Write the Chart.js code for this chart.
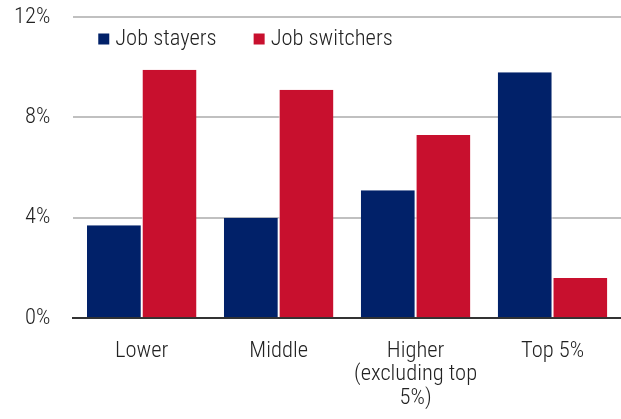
<!DOCTYPE html>
<html>
<head>
    <meta charset="UTF-8">
    <title>Job stayers vs switchers</title>
    <script src="https://cdn.jsdelivr.net/npm/chart.js@4.4.1/dist/chart.umd.min.js"></script>
    <style>
        body { margin: 0; background: #fff; }
        #wrap { width: 621px; height: 419px; }
    </style>
</head>
<body>
    <div id="wrap"><canvas id="myChart" width="621" height="419"></canvas></div>

    <script>
        const categories = ['Lower', 'Middle', ['Higher', '(excluding top', '5%)'], 'Top 5%'];
        const jobStayers = [3.7, 4.0, 5.1, 9.8];
        const jobSwitchers = [9.9, 9.1, 7.3, 1.6];
        const yTicks = [0, 4, 8, 12];

        const FONT = '"Roboto Condensed", "Open Sans", sans-serif';
        const WEIGHT = '300';
        const SIZE = 22.5;

        // legend drawn inside the plot, top-left
        const insideLegend = {
            id: 'insideLegend',
            afterDraw(chart) {
                const ctx = chart.ctx;
                const area = chart.chartArea;
                let x = area.left + 25;
                const y = area.top + 22;
                ctx.save();
                ctx.font = WEIGHT + ' ' + SIZE + 'px ' + FONT;
                ctx.textBaseline = 'middle';
                chart.data.datasets.forEach((ds) => {
                    ctx.fillStyle = ds.backgroundColor;
                    ctx.fillRect(x, y - 5.5, 11, 11);
                    ctx.fillStyle = '#222';
                    ctx.fillText(ds.label, x + 17, y);
                    x += 17 + ctx.measureText(ds.label).width + 37;
                });
                ctx.restore();
            }
        };

        const ctx = document.getElementById('myChart').getContext('2d');
        new Chart(ctx, {
            type: 'bar',
            data: {
                labels: categories,
                datasets: [{
                    label: 'Job stayers',
                    data: jobStayers,
                    backgroundColor: '#012169',
                    borderColor: '#ffffff',
                    borderWidth: { left: 0, right: 1, top: 0, bottom: 0 }
                }, {
                    label: 'Job switchers',
                    data: jobSwitchers,
                    backgroundColor: '#C8102E',
                    borderColor: '#ffffff',
                    borderWidth: { left: 1, right: 0, top: 0, bottom: 0 }
                }]
            },
            options: {
                responsive: false,
                animation: false,
                layout: { padding: { top: 0, right: 0, left: -9, bottom: -4 } },
                datasets: {
                    bar: { categoryPercentage: 0.8, barPercentage: 1.0 }
                },
                plugins: {
                    legend: { display: false },
                    tooltip: { enabled: false }
                },
                scales: {
                    x: {
                        grid: { display: false },
                        border: { display: true, color: '#333', width: 2 },
                        ticks: {
                            color: '#222',
                            font: { family: FONT, weight: WEIGHT, size: SIZE, lineHeight: 1.05 },
                            padding: 13,
                            maxRotation: 0
                        }
                    },
                    y: {
                        min: 0,
                        max: 12,
                        afterBuildTicks(axis) {
                            axis.ticks = yTicks.map(v => ({ value: v }));
                        },
                        // tick padding also pads the top; keep only the label's half height
                        afterFit(axis) {
                            axis.paddingTop = 17;
                            axis.paddingBottom = 0;
                        },
                        grid: { color: '#c0c0c0', lineWidth: 2, drawTicks: false },
                        border: { display: false },
                        ticks: {
                            color: '#222',
                            font: { family: FONT, weight: WEIGHT, size: SIZE },
                            padding: 23,
                            callback: v => v + '%'
                        }
                    }
                }
            },
            plugins: [insideLegend]
        });
    </script>
</body>
</html>
